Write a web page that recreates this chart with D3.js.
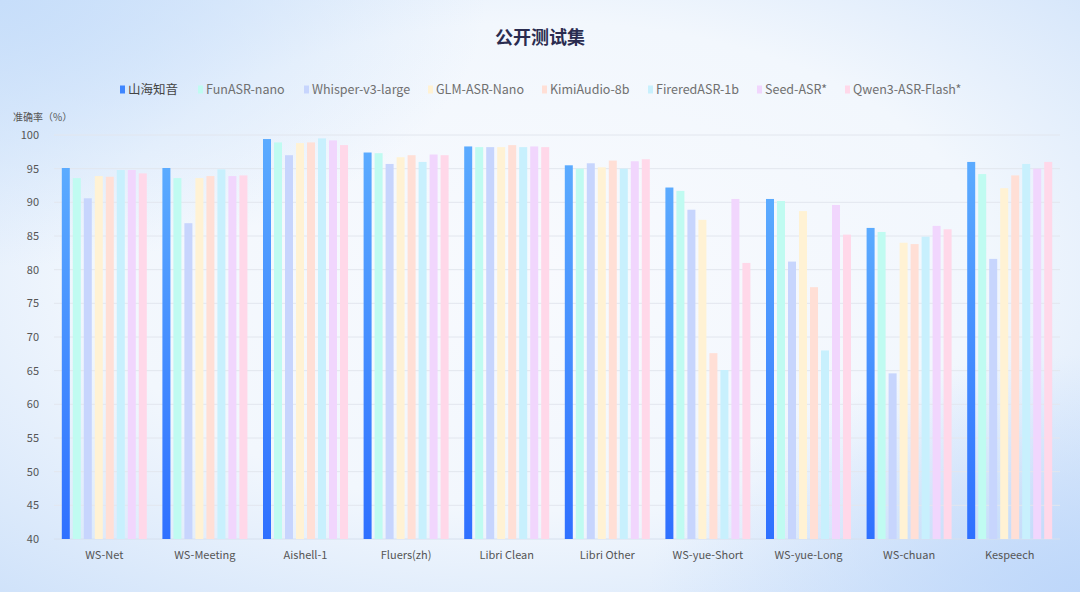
<!DOCTYPE html>
<html>
<head>
<meta charset="utf-8">
<script src="https://cdn.jsdelivr.net/npm/d3@7"></script>
<style>
  html, body { margin: 0; padding: 0; }
  body { width: 1080px; height: 592px; overflow: hidden; font-family: "Noto Sans CJK SC", "Noto Sans", sans-serif; }
  svg { display: block; }
</style>
</head>
<body>
<svg id="chart" width="1080" height="592"></svg>
<script>
// categories and series
var categories = ["WS-Net", "WS-Meeting", "Aishell-1", "Fluers(zh)", "Libri Clean", "Libri Other", "WS-yue-Short", "WS-yue-Long", "WS-chuan", "Kespeech"];
var seriesNames = ["山海知音", "FunASR-nano", "Whisper-v3-large", "GLM-ASR-Nano", "KimiAudio-8b", "FireredASR-1b", "Seed-ASR*", "Qwen3-ASR-Flash*"];
var shanhai   = [95.1, 95.1, 99.4, 97.4, 98.3, 95.5, 92.2, 90.5, 86.2, 96.0];
var funasr    = [93.6, 93.6, 98.9, 97.3, 98.2, 95.0, 91.7, 90.2, 85.6, 94.2];
var whisper   = [90.6, 86.9, 97.0, 95.7, 98.2, 95.8, 88.9, 81.2, 64.6, 81.6];
var glm       = [93.9, 93.6, 98.8, 96.7, 98.2, 95.2, 87.4, 88.7, 84.0, 92.1];
var kimi      = [93.8, 93.9, 98.9, 97.0, 98.5, 96.2, 67.6, 77.4, 83.8, 94.0];
var firered   = [94.8, 94.9, 99.5, 96.0, 98.2, 95.0, 65.1, 68.0, 84.9, 95.7];
var seed      = [94.8, 93.9, 99.2, 97.1, 98.3, 96.1, 90.5, 89.6, 86.5, 95.0];
var qwen      = [94.3, 94.0, 98.5, 97.0, 98.2, 96.4, 81.0, 85.2, 86.0, 96.0];
var yTicks = [40, 45, 50, 55, 60, 65, 70, 75, 80, 85, 90, 95, 100];

var seriesValues = [shanhai, funasr, whisper, glm, kimi, firered, seed, qwen];
var colors = ["url(#gradMain)", "#c0fbf1", "#c7d5fd", "#fff2d4", "#ffdfd6", "#c8f0fd", "#f1d6fd", "#ffd8e9"];
var legendColors = ["#3f86ff", "#c0fbf1", "#c7d5fd", "#fff2d4", "#ffdfd6", "#c8f0fd", "#f1d6fd", "#ffd8e9"];

var svg = d3.select("#chart");
var W = 1080, H = 592;
var margin = { top: 135, right: 20, bottom: 53, left: 54 };

var defs = svg.append("defs");

// page background
var bg = defs.append("radialGradient").attr("id", "bgGrad")
    .attr("cx", "50%").attr("cy", "45%").attr("r", "75%");
bg.append("stop").attr("offset", "0%").attr("stop-color", "#f8fafe");
bg.append("stop").attr("offset", "55%").attr("stop-color", "#f2f7fd");
bg.append("stop").attr("offset", "100%").attr("stop-color", "#cfe2fa");
svg.append("rect").attr("width", W).attr("height", H).attr("fill", "url(#bgGrad)");

var tl = defs.append("radialGradient").attr("id", "tlGrad").attr("cx", "0%").attr("cy", "0%").attr("r", "45%");
tl.append("stop").attr("offset", "0%").attr("stop-color", "#c5ddfa").attr("stop-opacity", 0.9);
tl.append("stop").attr("offset", "100%").attr("stop-color", "#c5ddfa").attr("stop-opacity", 0);
svg.append("rect").attr("width", W).attr("height", H).attr("fill", "url(#tlGrad)");

var br = defs.append("radialGradient").attr("id", "brGrad").attr("cx", "100%").attr("cy", "100%").attr("r", "40%");
br.append("stop").attr("offset", "0%").attr("stop-color", "#bcd6fa").attr("stop-opacity", 0.9);
br.append("stop").attr("offset", "100%").attr("stop-color", "#bcd6fa").attr("stop-opacity", 0);
svg.append("rect").attr("width", W).attr("height", H).attr("fill", "url(#brGrad)");

var gm = defs.append("linearGradient").attr("id", "gradMain").attr("x1", 0).attr("y1", 0).attr("x2", 0).attr("y2", 1);
gm.append("stop").attr("offset", "0%").attr("stop-color", "#5babff");
gm.append("stop").attr("offset", "100%").attr("stop-color", "#2f70ff");

// scales
var x0 = d3.scaleBand().domain(categories).range([margin.left, W - margin.right]);
var barW = 8, barGap = 3;
var groupW = seriesNames.length * barW + (seriesNames.length - 1) * barGap;
var y = d3.scaleLinear().domain([40, 100]).range([H - margin.bottom, margin.top]);

// title
svg.append("text")
    .attr("x", W / 2).attr("y", 44)
    .attr("text-anchor", "middle")
    .attr("font-size", 18).attr("font-weight", "bold")
    .attr("fill", "#2a2c50")
    .text("公开测试集");

// legend
var legendX = [120, 198, 304, 428, 542, 648, 757, 845];
var legend = svg.append("g").attr("class", "legend");
seriesNames.forEach(function (name, i) {
    var g = legend.append("g").attr("transform", "translate(" + legendX[i] + ",90)");
    g.append("rect").attr("x", 0).attr("y", -4.5).attr("width", 5).attr("height", 8).attr("fill", legendColors[i]);
    g.append("text").attr("x", 8).attr("y", 0).attr("dy", "0.35em")
        .attr("font-size", 12.5).attr("fill", i === 0 ? "#444" : "#707070").text(name);
});

// y axis label
svg.append("text")
    .attr("x", 13).attr("y", 121)
    .attr("font-size", 10).attr("fill", "#555")
    .text("准确率（%）");

// grid
var grid = svg.append("g").attr("class", "grid");
grid.selectAll("line").data(yTicks).enter().append("line")
    .attr("x1", margin.left).attr("x2", W - margin.right)
    .attr("y1", function (d) { return y(d); }).attr("y2", function (d) { return y(d); })
    .attr("stroke", function (d) { return d === 40 ? "#d6e0ee" : "#e2e6ee"; })
    .attr("stroke-width", 1);

// y axis
var yAxisGen = g => g
    .attr("transform", "translate(" + (margin.left - 12) + ",0)")
    .call(d3.axisLeft(y).tickValues(yTicks).tickSize(0))
    .call(g => g.select(".domain").remove())
    .call(g => g.selectAll("text").attr("font-size", 11).attr("fill", "#555")
        .attr("font-family", "'Noto Sans CJK SC', 'Noto Sans', sans-serif"));
svg.append("g").attr("class", "y axis").call(yAxisGen);

// bars
var bars = svg.append("g").attr("class", "bars");
categories.forEach(function (cat, ci) {
    var start = x0(cat) + (x0.bandwidth() - groupW) / 2;
    seriesValues.forEach(function (vals, si) {
        bars.append("rect")
            .attr("x", start + si * (barW + barGap))
            .attr("y", y(vals[ci]))
            .attr("width", barW)
            .attr("height", y(40) - y(vals[ci]))
            .attr("fill", colors[si]);
    });
});

// x axis
var xAxisGen = g => g
    .attr("transform", "translate(0," + (H - margin.bottom) + ")")
    .call(d3.axisBottom(x0).tickSize(0).tickPadding(12))
    .call(g => g.select(".domain").remove())
    .call(g => g.selectAll("text").attr("font-size", 11).attr("fill", "#555")
        .attr("font-family", "'Noto Sans CJK SC', 'Noto Sans', sans-serif"));
svg.append("g").attr("class", "x axis").call(xAxisGen);
</script>
</body>
</html>
